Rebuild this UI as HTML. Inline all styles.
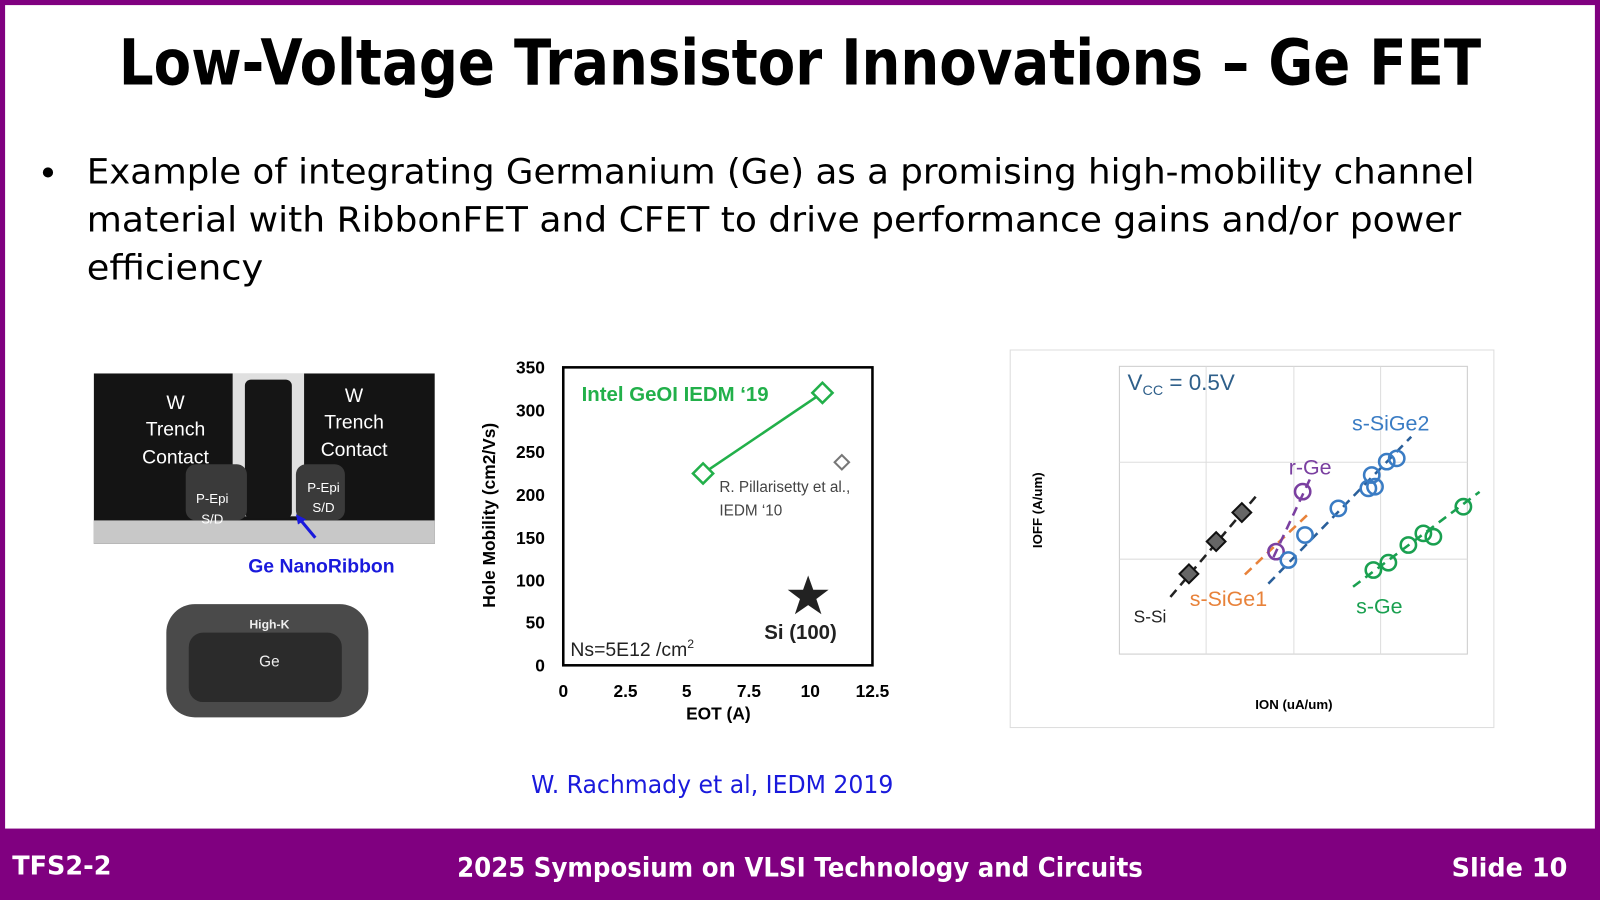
<!DOCTYPE html>
<html><head><style>html,body{margin:0;padding:0;background:#fff}svg{display:block}</style></head><body>
<svg width="1600" height="900" viewBox="0 0 1568 882" preserveAspectRatio="none" xmlns="http://www.w3.org/2000/svg" font-family="Liberation Sans, sans-serif">
<rect x="0" y="0" width="1568" height="882" fill="#800080"/>
<rect x="5" y="5" width="1558" height="807" fill="#fff"/>
<text x="784" y="83" text-anchor="middle" font-size="62" font-weight="bold" font-family="DejaVu Sans, sans-serif" textLength="1335" lengthAdjust="spacingAndGlyphs">Low-Voltage Transistor Innovations – Ge FET</text>
<circle cx="47" cy="169" r="5" fill="#000"/>
<g font-size="34" font-family="DejaVu Sans, sans-serif">
<text x="85" y="180" textLength="1360" lengthAdjust="spacingAndGlyphs">Example of integrating Germanium (Ge) as a promising high-mobility channel</text>
<text x="85" y="227" textLength="1347" lengthAdjust="spacingAndGlyphs">material with RibbonFET and CFET to drive performance gains and/or power</text>
<text x="85" y="274" textLength="173" lengthAdjust="spacingAndGlyphs">efficiency</text>
</g>
<rect x="92" y="366" width="334" height="167" fill="#141414"/>
<rect x="92" y="510" width="334" height="23" fill="#c8c8c8"/>
<rect x="228" y="366" width="70" height="140" fill="#e0e0e0"/>
<rect x="240" y="372" width="46" height="136" rx="6" fill="#151515"/>
<rect x="182" y="455" width="60" height="55" rx="10" fill="#3a3a3a"/>
<rect x="290" y="455" width="48" height="55" rx="10" fill="#3a3a3a"/>
<g fill="#fff" font-size="19" text-anchor="middle">
<text x="172" y="401">W</text><text x="172" y="427">Trench</text><text x="172" y="454">Contact</text>
<text x="347" y="394">W</text><text x="347" y="420">Trench</text><text x="347" y="447">Contact</text>
</g>
<g fill="#fff" font-size="13" text-anchor="middle">
<text x="208" y="493">P-Epi</text><text x="208" y="513">S/D</text>
<text x="317" y="482">P-Epi</text><text x="317" y="502">S/D</text>
</g>
<line x1="309" y1="527" x2="294" y2="509" stroke="#1a1adc" stroke-width="3"/>
<polygon points="290,504 300,509 292,514" fill="#1a1adc"/>
<text x="315" y="561" text-anchor="middle" font-size="19" font-weight="bold" fill="#1a1adc">Ge NanoRibbon</text>
<rect x="163" y="592" width="198" height="111" rx="28" fill="#4a4a4a"/>
<rect x="185" y="620" width="150" height="68" rx="14" fill="#2b2b2b"/>
<text x="264" y="616" text-anchor="middle" font-size="12" font-weight="bold" fill="#eee">High-K</text>
<text x="264" y="653" text-anchor="middle" font-size="15" fill="#eee">Ge</text>
<rect x="552" y="360" width="303" height="292" fill="none" stroke="#000" stroke-width="2.5"/>
<g font-size="17" font-weight="bold" text-anchor="end">
<text x="534" y="366">350</text><text x="534" y="408">300</text><text x="534" y="449">250</text><text x="534" y="491">200</text><text x="534" y="533">150</text><text x="534" y="575">100</text><text x="534" y="616">50</text><text x="534" y="658">0</text>
</g>
<g font-size="17" font-weight="bold" text-anchor="middle">
<text x="552" y="683">0</text><text x="613" y="683">2.5</text><text x="673" y="683">5</text><text x="734" y="683">7.5</text><text x="794" y="683">10</text><text x="855" y="683">12.5</text>
<text x="704" y="705">EOT (A)</text>
</g>
<text transform="translate(485,505) rotate(-90)" text-anchor="middle" font-size="17" font-weight="bold">Hole Mobility (cm2/Vs)</text>
<line x1="689" y1="464" x2="806" y2="385" stroke="#22b04a" stroke-width="2.5"/>
<rect x="682" y="457" width="14" height="14" transform="rotate(45 689 464)" fill="#fff" stroke="#22b04a" stroke-width="2.5"/>
<rect x="799" y="378" width="14" height="14" transform="rotate(45 806 385)" fill="#fff" stroke="#22b04a" stroke-width="2.5"/>
<rect x="820" y="448" width="10" height="10" transform="rotate(45 825 453)" fill="#fff" stroke="#777" stroke-width="2"/>
<text x="570" y="393" font-size="20" font-weight="bold" fill="#22b04a">Intel GeOI IEDM ‘19</text>
<text x="705" y="482" font-size="15" fill="#444">R. Pillarisetty et al.,</text>
<text x="705" y="505" font-size="15" fill="#444">IEDM ‘10</text>
<polygon points="792,564 797,578 812,578 800,587 805,602 792,593 779,602 784,587 772,578 787,578" fill="#222"/>
<text x="749" y="626" font-size="20" font-weight="bold" fill="#222">Si (100)</text>
<text x="559" y="643" font-size="19" fill="#222">Ns=5E12 /cm<tspan font-size="12" dy="-8">2</tspan></text>
<text x="698" y="777" text-anchor="middle" font-size="24" font-family="DejaVu Sans, sans-serif" fill="#1a1adc" textLength="355" lengthAdjust="spacingAndGlyphs">W. Rachmady et al, IEDM 2019</text>
<rect x="990" y="343" width="474" height="370" fill="#fff" stroke="#ddd"/>
<rect x="1097" y="359" width="341" height="282" fill="#fff" stroke="#ccc"/>
<g stroke="#ddd"><line x1="1182" y1="359" x2="1182" y2="641"/><line x1="1268" y1="359" x2="1268" y2="641"/><line x1="1353" y1="359" x2="1353" y2="641"/><line x1="1097" y1="453" x2="1438" y2="453"/><line x1="1097" y1="548" x2="1438" y2="548"/></g>
<text x="1105" y="382" font-size="22" fill="#2e5f8a">V<tspan font-size="14" dy="5">CC</tspan><tspan dy="-5"> = 0.5V</tspan></text>
<g stroke-width="2.5" stroke-dasharray="9,6" fill="none">
<line x1="1147" y1="585" x2="1232" y2="485" stroke="#222"/>
<line x1="1220" y1="563" x2="1285" y2="501" stroke="#e8823a"/>
<line x1="1248" y1="546" x2="1284" y2="469" stroke="#7a3fa0"/>
<line x1="1243" y1="572" x2="1383" y2="428" stroke="#2a5f9a"/>
<line x1="1326" y1="575" x2="1450" y2="482" stroke="#1aa050"/>
</g>
<g fill="#666" stroke="#111" stroke-width="2">
<rect x="1159" y="556" width="13" height="13" transform="rotate(45 1165.5 562)"/>
<rect x="1185" y="524" width="13" height="13" transform="rotate(45 1191.4 531)"/>
<rect x="1210" y="496" width="13" height="13" transform="rotate(45 1217 503)"/>
</g>
<g fill="none" stroke-width="2.5">
<g stroke="#7a3fa0"><circle cx="1250.5" cy="540.6" r="7.5"/><circle cx="1276.6" cy="481.8" r="7.5"/></g>
<g stroke="#3a7cc4"><circle cx="1262.6" cy="548.8" r="7.5"/><circle cx="1278.9" cy="524.3" r="7.5"/><circle cx="1311.6" cy="498.2" r="7.5"/><circle cx="1341" cy="478.6" r="7.5"/><circle cx="1347.5" cy="477" r="7.5"/><circle cx="1344.3" cy="465.5" r="7.5"/><circle cx="1359" cy="452.4" r="7.5"/><circle cx="1368.8" cy="449.2" r="7.5"/></g>
<g stroke="#1aa050"><circle cx="1345.9" cy="558.6" r="7.5"/><circle cx="1360.6" cy="551.4" r="7.5"/><circle cx="1380.2" cy="534.1" r="7.5"/><circle cx="1394.9" cy="522.7" r="7.5"/><circle cx="1404.7" cy="526" r="7.5"/><circle cx="1434.1" cy="496.6" r="7.5"/></g>
</g>
<text x="1325" y="422" font-size="21" fill="#3a7cc4">s-SiGe2</text>
<text x="1263" y="465" font-size="21" fill="#7a3fa0">r-Ge</text>
<text x="1166" y="594" font-size="21" fill="#e8823a">s-SiGe1</text>
<text x="1111" y="610" font-size="17" fill="#222">S-Si</text>
<text x="1329" y="601" font-size="21" fill="#1aa050">s-Ge</text>
<text transform="translate(1021,500) rotate(-90)" text-anchor="middle" font-size="13" font-weight="bold">IOFF (A/um)</text>
<text x="1268" y="695" text-anchor="middle" font-size="13" font-weight="bold">ION (uA/um)</text>
<g fill="#fff" font-weight="bold" font-family="DejaVu Sans, sans-serif" font-size="26">
<text x="12" y="857" font-size="25">TFS2-2</text>
<text x="784" y="859" text-anchor="middle" textLength="672" lengthAdjust="spacingAndGlyphs">2025 Symposium on VLSI Technology and Circuits</text>
<text x="1536" y="859" text-anchor="end" font-size="25">Slide 10</text>
</g>
</svg>
</body></html>
